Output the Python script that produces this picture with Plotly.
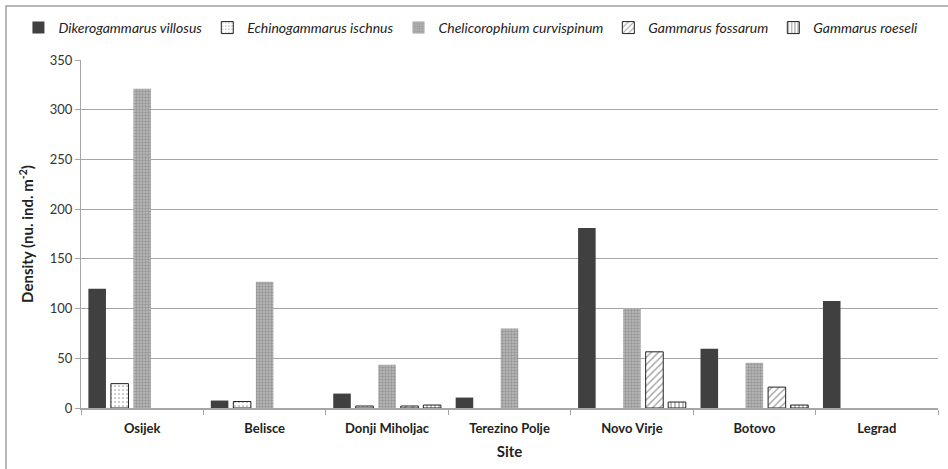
import plotly.graph_objects as go

sites = ["Osijek", "Belisce", "Donji Miholjac", "Terezino Polje", "Novo Virje", "Botovo", "Legrad"]
species = ["Dikerogammarus villosus", "Echinogammarus ischnus", "Chelicorophium curvispinum",
           "Gammarus fossarum", "Gammarus roeseli"]
d_villosus = [120, 7.5, 14.5, 10.5, 181, 59.5, 107.5]
e_ischnus = [24.5, 6.5, 2, None, None, None, None]
c_curvispinum = [321, 127, 43.5, 80, 100.5, 45.5, None]
g_fossarum = [None, None, 2, None, 56.5, 21, None]
g_roeseli = [None, None, 3, None, 6, 3, None]
y_ticks = [0, 50, 100, 150, 200, 250, 300, 350]

series = [d_villosus, e_ischnus, c_curvispinum, g_fossarum, g_roeseli]
styles = [
    dict(color="#404040", line=dict(width=0)),
    dict(color="white", line=dict(color="#222222", width=1),
         pattern=dict(shape=".", fgcolor="#444444", bgcolor="white", size=4, solidity=0.15)),
    dict(color="#a8a8a8", line=dict(width=0),
         pattern=dict(shape=".", fgcolor="#6e6e6e", bgcolor="#bcbcbc", size=3, solidity=0.5)),
    dict(color="white", line=dict(color="#222222", width=1),
         pattern=dict(shape="/", fgcolor="#333333", bgcolor="white", size=5, solidity=0.25)),
    dict(color="white", line=dict(color="#222222", width=1),
         pattern=dict(shape="|", fgcolor="#222222", bgcolor="white", size=4, solidity=0.3)),
]

fig = go.Figure()
for name, vals, st in zip(species, series, styles):
    fig.add_trace(go.Bar(x=sites, y=vals, name=name, marker=st))

fig.update_layout(
    width=948, height=469,
    margin=dict(l=81, r=10, t=60, b=61, autoexpand=False),
    paper_bgcolor="white", plot_bgcolor="white",
    font=dict(family="Lato", size=13, color="#333333"),
    barmode="group", bargap=0.08, bargroupgap=0.22,
    legend=dict(orientation="h", x=-0.073, xanchor="left", y=1.092, yanchor="middle",
                font=dict(family="Lato", size=14, color="#222222", style="italic"),
                itemwidth=30, tracegroupgap=0, bgcolor="rgba(0,0,0,0)"),
    shapes=[dict(type="rect", xref="paper", yref="paper", x0=-0.0875, x1=1.2, y0=-0.5, y1=1.155,
                 line=dict(color="#a0a0a0", width=1.5), layer="below")],
)
fig.update_xaxes(
    type="category", tickson="boundaries", ticks="outside", ticklen=5, tickcolor="#a6a6a6",
    showline=True, linecolor="#a6a6a6", linewidth=1.5, ticklabelstandoff=8,
    tickfont=dict(family="Lato", size=13, color="#222222", weight="bold"),
    title=dict(text="Site", font=dict(family="Lato", size=15, color="#222222", weight="bold"), standoff=11),
)
fig.update_yaxes(
    range=[0, 350], tickvals=y_ticks, ticks="outside", ticklen=5, tickcolor="#a6a6a6",
    showline=True, linecolor="#a6a6a6", linewidth=1,
    showgrid=True, gridcolor="#a6a6a6", gridwidth=1, zeroline=False,
    tickfont=dict(family="Lato", size=13, color="#333333"),
    title=dict(text="Density (nu. ind. m<sup>-2</sup>)",
               font=dict(family="Lato", size=15, color="#222222", weight="bold"), standoff=12),
)

fig.write_html("out.html", config={"displayModeBar": False},
               post_script="document.body.style.margin='0';document.body.style.overflow='hidden';")
